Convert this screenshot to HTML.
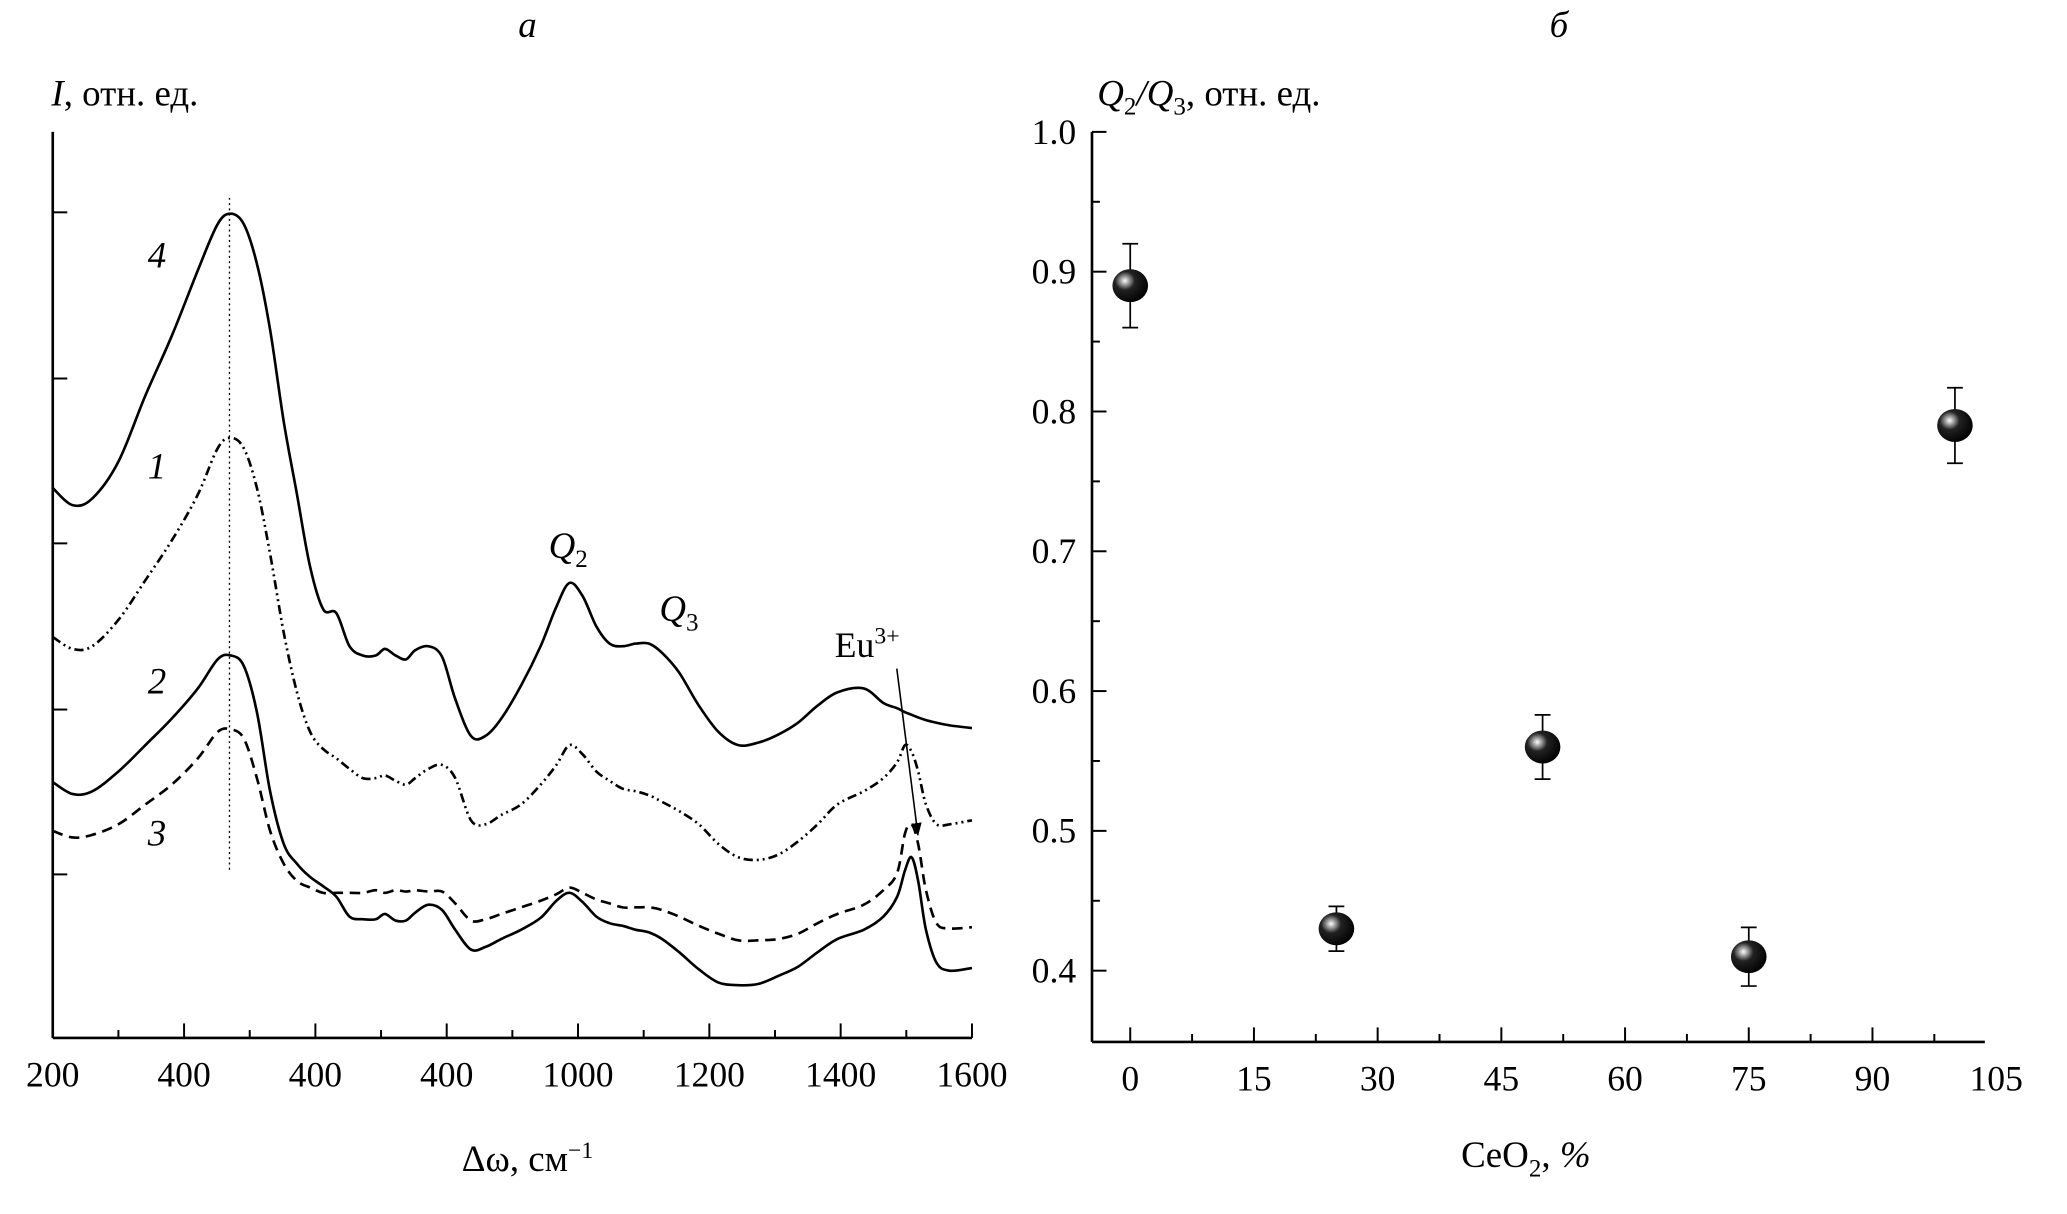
<!DOCTYPE html>
<html><head><meta charset="utf-8"><style>
html,body{margin:0;padding:0;background:#fff;}
svg{display:block;font-family:"Liberation Serif",serif;}
</style></head><body>
<svg id="chart" width="2067" height="1214" viewBox="0 0 1567.3 920.5" preserveAspectRatio="none" xmlns="http://www.w3.org/2000/svg">
<defs>
<radialGradient id="sph" cx="0.35" cy="0.35" r="0.7">
<stop offset="0" stop-color="#fff"/><stop offset="0.12" stop-color="#bbb"/><stop offset="0.4" stop-color="#222"/><stop offset="1" stop-color="#000"/>
</radialGradient>
<marker id="arr" markerWidth="10" markerHeight="10" refX="9" refY="5" orient="auto" markerUnits="userSpaceOnUse"><path d="M0,1 L10,5 L0,9 z" fill="#000"/></marker>
</defs>
<g id="left"></g>
<g id="right"></g>
</svg>
<script>
// ---- Panel a data ----
const ramanX = [200,230,260,300,341,381,421,451,471,491,511,531,552,572,592,612,632,652,672,692,706,722,738,752,772,793,813,837,859,883,913,943,967,987,1007,1028,1048,1068,1088,1108,1128,1154,1184,1214,1244,1275,1305,1335,1365,1395,1435,1465,1486,1498,1508,1518,1530,1546,1566,1600];
const curve4 = [417,404,409,437,487,532,582,617,625,617,587,537,467,412,357,325,322,297,290,290,295,290,287,294,297,289,257,229,229,242,267,297,327,345,335,312,299,297,299,299,292,277,252,232,222,224,230,239,252,262,265,254,250,247,245,243,241,239,237,235];
const curve1 = [304,295,297,317,347,377,412,447,455,447,417,367,307,262,232,219,212,204,197,197,199,195,192,197,204,207,197,165,162,169,177,192,207,222,215,202,195,189,187,184,179,172,162,147,137,135,139,149,162,177,187,197,209,222,217,202,177,162,162,165];
const curve2 = [194,185,187,202,222,242,265,287,290,282,247,187,147,132,122,115,107,92,90,90,94,89,89,95,101,97,82,67,69,75,82,91,104,110,103,92,87,85,82,80,75,65,52,42,40,41,47,54,65,75,82,92,107,127,137,119,82,57,51,53];
const curve3 = [157,152,154,162,177,192,212,232,234,227,197,157,132,119,114,110,110,110,110,112,110,112,111,112,111,111,102,89,90,94,99,104,109,114,110,105,102,99,99,99,97,92,85,79,74,74,75,79,87,94,101,112,125,155,162,147,112,87,83,84];
const ramanTickLabels = ["200","400","400","400","1000","1200","1400","1600"];
// ---- Panel б data ----
const ceo2 = [0,25,50,75,100];
const ratio = [0.89,0.43,0.56,0.41,0.79];
const ratioErr = [0.03,0.016,0.023,0.021,0.027];
const ratioXTicks = [0,15,30,45,60,75,90,105];
const ratioYTicks = [0.4,0.5,0.6,0.7,0.8,0.9,1.0];

const NS="http://www.w3.org/2000/svg";
function mk(parent,tag,attrs,text){const e=document.createElementNS(NS,tag);for(const k in attrs)e.setAttribute(k,attrs[k]);if(text!==undefined)e.textContent=text;parent.appendChild(e);return e;}

// ---------- Left panel ----------
const L=document.getElementById('left');
const lx=v=>40+(v-200)*(737-40)/1400;
const ly=v=>787-v;
let e;
e=mk(L,'line',{x1:40,y1:100,x2:40,y2:787,stroke:'#000','stroke-width':2});


e=mk(L,'line',{x1:40,y1:787,x2:737,y2:787,stroke:'#000','stroke-width':2});


for(let i=0;i<=14;i++){const x=lx(200+i*100);const len=i%2?6:11;
 e=mk(L,'line',{x1:x,y1:787,x2:x,y2:787-len,stroke:'#000','stroke-width':1.5});
 
 }
ramanTickLabels.forEach((t,i)=>{e=mk(L,'text',{x:lx(200+i*200),y:824,'font-size':27,'text-anchor':'middle'},t);
 
 });
[161,287,412,538,663].forEach(y=>{e=mk(L,'line',{x1:40,y1:y,x2:51,y2:y,stroke:'#000','stroke-width':1.5});
 
 });
function pathFor(xs,ys,fx,fy){const p=xs.map((x,i)=>[fx(x),fy(ys[i])]);let d=`M${p[0][0]},${p[0][1]}`;
 for(let i=0;i<p.length-1;i++){const p0=p[i-1]||p[i],p1=p[i],p2=p[i+1],p3=p[i+2]||p2;
  const c1=[p1[0]+(p2[0]-p0[0])/6,p1[1]+(p2[1]-p0[1])/6],c2=[p2[0]-(p3[0]-p1[0])/6,p2[1]-(p3[1]-p1[1])/6];
  d+=` C${c1[0].toFixed(1)},${c1[1].toFixed(1)} ${c2[0].toFixed(1)},${c2[1].toFixed(1)} ${p2[0].toFixed(1)},${p2[1].toFixed(1)}`;}
 return d;}
const series=[[curve4,'','curve-4'],[curve1,'7,3,1.5,3,1.5,3','curve-1'],[curve2,'','curve-2'],[curve3,'8,5','curve-3']];
series.forEach(s=>{e=mk(L,'path',{d:pathFor(ramanX,s[0],lx,ly),fill:'none',stroke:'#000','stroke-width':2,'stroke-dasharray':s[1]||'none'});
 
 });
e=mk(L,'line',{x1:174,y1:150,x2:174,y2:660,stroke:'#000','stroke-width':1,'stroke-dasharray':'1.5,2.5'});


[['4',119,203],['1',119,363],['2',119,526],['3',119,641]].forEach(a=>{e=mk(L,'text',{x:a[1],y:a[2],'font-size':28,'font-style':'italic','text-anchor':'middle'},a[0]);
 
 });
e=mk(L,'text',{x:416,y:423,'font-size':28,'font-style':'italic'});


e.innerHTML='Q<tspan font-size="19" dy="7" font-style="normal">2</tspan>';
e=mk(L,'text',{x:500,y:471,'font-size':28,'font-style':'italic'});


e.innerHTML='Q<tspan font-size="19" dy="7" font-style="normal">3</tspan>';
e=mk(L,'text',{x:633,y:498,'font-size':27});


e.innerHTML='Eu<tspan font-size="18" dy="-10">3+</tspan>';
e=mk(L,'line',{x1:680,y1:507,x2:696,y2:633,stroke:'#000','stroke-width':1.2,'marker-end':'url(#arr)'});


e=mk(L,'text',{x:400,y:28,'font-size':28,'font-style':'italic','text-anchor':'middle'},'a');


e=mk(L,'text',{x:39,y:80,'font-size':28});


e.innerHTML='<tspan font-style="italic">I</tspan>, отн. ед.';
e=mk(L,'text',{x:400,y:888,'font-size':28,'text-anchor':'middle'});


e.innerHTML='Δω, см<tspan font-size="18" dy="-10">−1</tspan>';

// ---------- Right panel ----------
const R=document.getElementById('right');
const rx=v=>857+v*93.8/15;
const ry=v=>736-(v-0.4)*1060;
e=mk(R,'line',{x1:828,y1:100,x2:828,y2:790,stroke:'#000','stroke-width':2});


e=mk(R,'line',{x1:828,y1:790,x2:1505,y2:790,stroke:'#000','stroke-width':2});


for(let i=0;i<14;i++){const v=i*7.5;const x=rx(v);const len=i%2?6:11;
 e=mk(R,'line',{x1:x,y1:790,x2:x,y2:790-len,stroke:'#000','stroke-width':1.5});
 
 }
ratioXTicks.forEach(t=>{e=mk(R,'text',{x:rx(t),y:827,'font-size':27,'text-anchor':'middle'},String(t));
 
 });
for(let i=0;i<13;i++){const v=0.4+i*0.05;if(v>1.001)break;const y=ry(v);const len=i%2?6:11;
 e=mk(R,'line',{x1:828,y1:y,x2:828+len,y2:y,stroke:'#000','stroke-width':1.5});
 
 }
ratioYTicks.forEach(t=>{e=mk(R,'text',{x:816,y:ry(t)+9,'font-size':27,'text-anchor':'end'},t.toFixed(1));
 
 });
ceo2.forEach((c,i)=>{const x=rx(c),y=ry(ratio[i]),y1=ry(ratio[i]+ratioErr[i]),y2=ry(ratio[i]-ratioErr[i]);
 e=mk(R,'path',{d:`M${x},${y1}V${y2}M${x-6},${y1}H${x+6}M${x-6},${y2}H${x+6}`,stroke:'#000','stroke-width':1.3,fill:'none'});
 
 
 e=mk(R,'ellipse',{cx:x,cy:y,rx:13.5,ry:12.5,fill:'url(#sph)'});
 
 });
e=mk(R,'text',{x:1182,y:28,'font-size':28,'font-style':'italic','text-anchor':'middle'},'б');


e=mk(R,'text',{x:832,y:80,'font-size':28});


e.innerHTML='<tspan font-style="italic">Q</tspan><tspan font-size="19" dy="7">2</tspan><tspan dy="-7" font-style="italic">/Q</tspan><tspan font-size="19" dy="7">3</tspan><tspan dy="-7">, отн. ед.</tspan>';
e=mk(R,'text',{x:1157,y:885,'font-size':28,'text-anchor':'middle'});


e.innerHTML='CeO<tspan font-size="19" dy="7">2</tspan><tspan dy="-7">, </tspan><tspan font-style="italic">%</tspan>';
</script>
</body></html>
